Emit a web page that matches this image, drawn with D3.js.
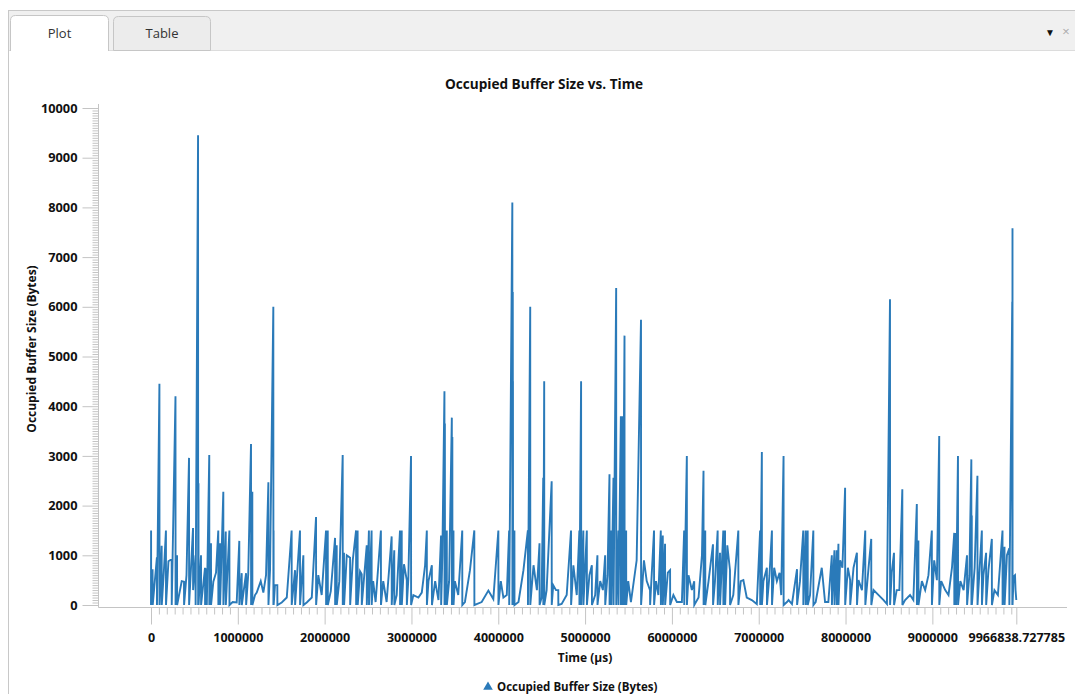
<!DOCTYPE html>
<html>
<head>
<meta charset="utf-8">
<script src="https://cdn.jsdelivr.net/npm/d3@7"></script>
<style>
  html, body { margin: 0; padding: 0; background: #ffffff; }
  svg { display: block; font-family: "Open Sans", "Noto Sans", sans-serif; }
</style>
</head>
<body>
<svg id="chart" width="1075" height="694"></svg>
<script>
// ---- text ----
const chartTitle = "Occupied Buffer Size vs. Time";
const xAxisTitle = "Time (µs)";
const yAxisTitle = "Occupied Buffer Size (Bytes)";
const seriesName = "Occupied Buffer Size (Bytes)";
const tabLabels = ["Plot", "Table"];

// ---- axes ----
const timeEnd = 9966838.727785;
const xTickValues = [0, 1000000, 2000000, 3000000, 4000000, 5000000, 6000000, 7000000, 8000000, 9000000, timeEnd];
const xTickLabels = ["0", "1000000", "2000000", "3000000", "4000000", "5000000", "6000000", "7000000", "8000000", "9000000", "9966838.727785"];
const yTickValues = [0, 1000, 2000, 3000, 4000, 5000, 6000, 7000, 8000, 9000, 10000];

// ---- series: [time (µs), occupied buffer (bytes)] ----
const bufferSamples = [
  [0, 0], [1000, 1500], [2000, 0], [18000, 720], [20000, 0], [68000, 960], [69000, 0],
  [97000, 4450], [98000, 0], [123000, 1190], [124000, 0], [149000, 700], [172000, 1500], [173000, 0],
  [201000, 880], [238000, 920], [239000, 0], [282000, 4200], [283000, 0], [300000, 1000], [301000, 0],
  [354000, 480], [380000, 470], [381000, 0], [409000, 600], [438000, 2960], [439000, 0],
  [484000, 1550], [485000, 300], [513000, 1000], [514000, 0], [542000, 9450], [543000, 0],
  [547000, 2450], [548000, 0], [576000, 1000], [577000, 0], [622000, 750], [623000, 0],
  [642000, 740], [643000, 0], [671000, 3020], [672000, 0], [691000, 1240], [692000, 0],
  [718000, 470], [749000, 650], [775000, 1500], [776000, 0], [795000, 1240], [796000, 0],
  [833000, 2280], [834000, 0], [861000, 1480], [862000, 0], [903000, 1500], [904000, 0],
  [941000, 60], [987000, 50], [1017000, 1290], [1018000, 0], [1045000, 640], [1046000, 0],
  [1095000, 640], [1096000, 0], [1120000, 620], [1152000, 3240], [1153000, 0],
  [1167000, 2280], [1168000, 0], [1198000, 200], [1218000, 250], [1264000, 480], [1294000, 250],
  [1325000, 600], [1352000, 2470], [1353000, 0], [1371000, 700], [1409000, 6000], [1410000, 0],
  [1412000, 1500], [1413000, 0], [1428000, 400], [1455000, 400], [1456000, 0], [1506000, 50],
  [1564000, 150], [1620000, 1500], [1621000, 0], [1659000, 700], [1660000, 0],
  [1716000, 1500], [1717000, 0], [1755000, 1000], [1756000, 0], [1794000, 50], [1852000, 150],
  [1901000, 1770], [1902000, 0], [1927000, 600], [1966000, 200], [2016000, 1500], [2017000, 0],
  [2036000, 1500], [2037000, 0], [2071000, 280], [2120000, 1350], [2121000, 0],
  [2139000, 1200], [2140000, 0], [2169000, 480], [2208000, 3020], [2209000, 0],
  [2223000, 1050], [2224000, 0], [2255000, 1000], [2293000, 950], [2294000, 0], [2324000, 900],
  [2362000, 1500], [2363000, 0], [2380000, 1500], [2381000, 0], [2408000, 680],
  [2427000, 620], [2428000, 0], [2485000, 1200], [2486000, 0], [2510000, 1500], [2511000, 0],
  [2541000, 1500], [2542000, 0], [2559000, 480], [2587000, 60], [2648000, 1500], [2649000, 0],
  [2675000, 480], [2714000, 60], [2772000, 1380], [2773000, 0], [2802000, 1100], [2803000, 0],
  [2830000, 200], [2868000, 1500], [2869000, 0], [2888000, 1500], [2889000, 0], [2914000, 820],
  [2946000, 500], [2947000, 0], [2964000, 520], [2995000, 3000], [2996000, 0], [3022000, 200],
  [3080000, 150], [3119000, 250], [3157000, 800], [3177000, 1500], [3178000, 0], [3196000, 480],
  [3235000, 800], [3236000, 0], [3273000, 480], [3311000, 100], [3341000, 1400], [3342000, 0],
  [3356000, 1000], [3380000, 4300], [3381000, 0], [3385000, 3650], [3386000, 0],
  [3407000, 1500], [3408000, 0], [3434000, 480], [3465000, 3770], [3466000, 0],
  [3471000, 3380], [3472000, 0], [3484000, 1500], [3485000, 0], [3500000, 480], [3539000, 200],
  [3585000, 1500], [3586000, 0], [3616000, 60], [3674000, 700], [3724000, 1500], [3725000, 0],
  [3751000, 20], [3809000, 60], [3886000, 290], [3943000, 120], [4001000, 1500], [4002000, 0],
  [4029000, 480], [4059000, 150], [4098000, 200], [4125000, 1500], [4126000, 0],
  [4162000, 8100], [4163000, 0], [4167000, 6300], [4168000, 3600], [4169000, 4500], [4170000, 0],
  [4186000, 1500], [4187000, 0], [4233000, 60], [4290000, 700], [4341000, 1500], [4342000, 0],
  [4368000, 6000], [4369000, 0], [4406000, 800], [4445000, 300], [4475000, 1240], [4476000, 0],
  [4499000, 150], [4518000, 2560], [4519000, 0], [4529000, 4500], [4530000, 0], [4557000, 300],
  [4615000, 2490], [4616000, 0], [4633000, 400], [4665000, 300], [4691000, 300], [4692000, 0],
  [4730000, 20], [4788000, 200], [4838000, 1500], [4839000, 0], [4865000, 800], [4904000, 200],
  [4934000, 1500], [4935000, 0], [4954000, 4500], [4955000, 0], [4980000, 1500], [4981000, 0],
  [5020000, 1500], [5021000, 0], [5050000, 600], [5078000, 800], [5079000, 0], [5116000, 200],
  [5142000, 1000], [5143000, 0], [5174000, 480], [5205000, 300], [5231000, 1000], [5232000, 0],
  [5258000, 600], [5281000, 2630], [5282000, 0], [5301000, 1500], [5302000, 0],
  [5327000, 2560], [5328000, 0], [5358000, 6380], [5359000, 0], [5384000, 1500], [5385000, 0],
  [5412000, 3800], [5413000, 0], [5431000, 3800], [5432000, 1500], [5433000, 0],
  [5454000, 5420], [5455000, 0], [5473000, 1500], [5474000, 0], [5497000, 480], [5528000, 60],
  [5594000, 900], [5644000, 5740], [5645000, 0], [5678000, 900], [5710000, 480],
  [5748000, 300], [5749000, 0], [5794000, 1500], [5795000, 0], [5817000, 480], [5844000, 200],
  [5872000, 1500], [5873000, 0], [5895000, 1400], [5896000, 0], [5921000, 1230], [5922000, 0],
  [5953000, 650], [5979000, 700], [5980000, 0], [6017000, 200], [6057000, 60], [6115000, 60],
  [6141000, 1500], [6142000, 0], [6172000, 3000], [6173000, 0], [6191000, 600], [6230000, 300],
  [6257000, 480], [6258000, 0], [6307000, 150], [6346000, 1000], [6364000, 2700], [6365000, 0],
  [6384000, 1500], [6385000, 0], [6422000, 480], [6473000, 1220], [6474000, 0], [6496000, 480],
  [6527000, 1500], [6528000, 0], [6554000, 1050], [6555000, 0], [6592000, 1500], [6593000, 0],
  [6612000, 1500], [6613000, 0], [6638000, 1200], [6669000, 700], [6670000, 0], [6707000, 200],
  [6765000, 1500], [6766000, 0], [6793000, 480], [6823000, 500], [6862000, 150], [6920000, 100],
  [6978000, 20], [7016000, 1500], [7017000, 0], [7036000, 3080], [7037000, 0], [7054000, 480],
  [7094000, 750], [7095000, 0], [7124000, 600], [7152000, 1500], [7153000, 0], [7178000, 750],
  [7209000, 480], [7240000, 650], [7259000, 200], [7286000, 3000], [7287000, 0], [7325000, 60],
  [7344000, 100], [7383000, 20], [7441000, 720], [7442000, 0], [7475000, 480],
  [7513000, 1500], [7514000, 0], [7541000, 1500], [7542000, 0], [7564000, 1500], [7565000, 0],
  [7591000, 200], [7629000, 1500], [7630000, 0], [7656000, 60], [7726000, 750], [7764000, 60],
  [7802000, 60], [7842000, 1000], [7843000, 0], [7872000, 1100], [7873000, 0],
  [7899000, 1100], [7900000, 0], [7918000, 1230], [7919000, 0], [7938000, 900], [7964000, 750],
  [7995000, 2360], [7996000, 0], [8027000, 750], [8053000, 500], [8054000, 0], [8092000, 750],
  [8131000, 1050], [8132000, 0], [8149000, 500], [8189000, 300], [8227000, 1500], [8228000, 0],
  [8265000, 750], [8296000, 1330], [8297000, 0], [8323000, 300], [8381000, 200], [8438000, 100],
  [8477000, 20], [8512000, 6150], [8513000, 0], [8532000, 650], [8558000, 1050], [8559000, 0],
  [8589000, 300], [8620000, 300], [8654000, 2330], [8655000, 0], [8686000, 100], [8743000, 200],
  [8781000, 100], [8821000, 2030], [8822000, 0], [8839000, 1300], [8840000, 0], [8879000, 480],
  [8917000, 300], [8955000, 600], [8994000, 1500], [8995000, 0], [9021000, 900], [9052000, 500],
  [9079000, 3400], [9080000, 0], [9102000, 480], [9148000, 300], [9186000, 200], [9226000, 750],
  [9252000, 1450], [9253000, 0], [9272000, 1450], [9273000, 0], [9295000, 3000], [9296000, 0],
  [9322000, 480], [9360000, 300], [9399000, 1000], [9400000, 0], [9426000, 600],
  [9449000, 2930], [9450000, 0], [9454000, 1800], [9455000, 0], [9487000, 750],
  [9519000, 2600], [9520000, 0], [9570000, 1500], [9571000, 0], [9588000, 600],
  [9619000, 1050], [9620000, 0], [9646000, 700], [9685000, 1330], [9686000, 0], [9715000, 300],
  [9755000, 200], [9808000, 1500], [9809000, 0], [9831000, 1170], [9832000, 0], [9859000, 1000],
  [9886000, 1140], [9887000, 0], [9920000, 6100], [9921000, 0], [9923000, 7580], [9924000, 0],
  [9935000, 570], [9952000, 600], [9958000, 300], [timeEnd, 100]
];

// ---- layout ----
const W = 1075, H = 694;
const lineColor = "#2a7ab9";
const axisColor = "#c4c4c4";

const svg = d3.select("#chart");

// tab strip
svg.append("rect").attr("x", 8).attr("y", 10).attr("width", W - 8).attr("height", 40).attr("fill", "#f0f0f0");
svg.append("line").attr("x1", 8).attr("x2", W).attr("y1", 10.5).attr("y2", 10.5).attr("stroke", "#c8c8c8");
svg.append("line").attr("x1", 8).attr("x2", W).attr("y1", 50.5).attr("y2", 50.5).attr("stroke", "#dcdcdc");
svg.append("line").attr("x1", 8.5).attr("x2", 8.5).attr("y1", 10).attr("y2", H).attr("stroke", "#c8c8c8");

function tabPath(x0, x1, top, bottom) {
  const r = 5;
  return `M${x0},${bottom} L${x0},${top + r} Q${x0},${top} ${x0 + r},${top} L${x1 - r},${top} Q${x1},${top} ${x1},${top + r} L${x1},${bottom}`;
}
const tabs = [
  { label: tabLabels[0], x0: 10.5, x1: 108.5, top: 15.5, fill: "#ffffff" },
  { label: tabLabels[1], x0: 113.5, x1: 210.5, top: 16.5, fill: "#ececec" }
];
tabs.forEach((t, i) => {
  svg.append("path").attr("d", tabPath(t.x0, t.x1, t.top, i === 0 ? 51 : 50.5) + (i === 0 ? "" : " Z"))
    .attr("fill", t.fill).attr("stroke", "#c6c6c6");
  svg.append("text").attr("x", (t.x0 + t.x1) / 2).attr("y", 38)
    .attr("text-anchor", "middle").attr("font-size", 13).attr("fill", "#333").text(t.label);
});
svg.append("text").attr("x", 1050).attr("y", 36).attr("text-anchor", "middle")
  .attr("font-size", 10).attr("fill", "#111").text("▼");
svg.append("text").attr("x", 1066).attr("y", 36).attr("text-anchor", "middle")
  .attr("font-size", 13).attr("fill", "#aaa").text("×");

// scales
const x = d3.scaleLinear().domain([0, timeEnd]).range([151, 1016.3]);
const y = d3.scaleLinear().domain([0, 10000]).range([605, 108]);

const axisY = 607.5, axisX = 98.5;

// title
svg.append("text").attr("x", 544).attr("y", 89).attr("text-anchor", "middle")
  .attr("font-size", 13.6).attr("font-weight", 700).attr("fill", "#111").text(chartTitle);

// y axis
const minorY = d3.range(0, 10001, 50).filter(v => v % 1000 !== 0);
svg.append("g").attr("transform", `translate(${axisX},0)`)
  .call(d3.axisLeft(y).tickValues(minorY).tickSize(6).tickFormat(""))
  .call(g => g.select(".domain").remove())
  .call(g => g.selectAll("line").attr("stroke", axisColor));
svg.append("g").attr("transform", `translate(${axisX},0)`)
  .call(d3.axisLeft(y).tickValues(yTickValues).tickSize(16).tickPadding(5).tickFormat(d3.format("d")))
  .call(g => g.select(".domain").remove())
  .call(g => g.selectAll("line").attr("stroke", axisColor))
  .call(g => g.selectAll("text").attr("font-size", 12.8).attr("font-weight", 700).attr("fill", "#111")
    .attr("font-family", "'Open Sans', sans-serif"));
svg.append("line").attr("x1", axisX).attr("x2", axisX).attr("y1", 104).attr("y2", axisY)
  .attr("stroke", axisColor);

// x axis
const minorStep = 1000000 / 11;
const minorX = d3.range(0, timeEnd, minorStep).filter((v, i) => i % 11 !== 0);
svg.append("g").attr("transform", `translate(0,${axisY})`)
  .call(d3.axisBottom(x).tickValues(minorX).tickSize(7).tickFormat(""))
  .call(g => g.select(".domain").remove())
  .call(g => g.selectAll("line").attr("stroke", axisColor));
svg.append("g").attr("transform", `translate(0,${axisY})`)
  .call(d3.axisBottom(x).tickValues(xTickValues).tickSize(17).tickPadding(9)
    .tickFormat((d, i) => xTickLabels[i]))
  .call(g => g.select(".domain").remove())
  .call(g => g.selectAll("line").attr("stroke", axisColor))
  .call(g => g.selectAll("text").attr("font-size", 12.5).attr("font-weight", 700).attr("fill", "#111")
    .attr("font-family", "'Open Sans', sans-serif"));
svg.append("line").attr("x1", axisX).attr("x2", 1067).attr("y1", axisY).attr("y2", axisY)
  .attr("stroke", axisColor);

// axis titles
svg.append("text").attr("x", 585).attr("y", 662).attr("text-anchor", "middle")
  .attr("font-size", 12).attr("font-weight", 700).attr("fill", "#111").text(xAxisTitle);
svg.append("text").attr("transform", "translate(36,349) rotate(-90)").attr("text-anchor", "middle")
  .attr("font-size", 12).attr("font-weight", 700).attr("fill", "#111").text(yAxisTitle);

// series line
const line = d3.line().x(d => x(d[0])).y(d => y(d[1]));
svg.append("path").datum(bufferSamples)
  .attr("d", line).attr("fill", "none").attr("stroke", lineColor)
  .attr("stroke-width", 1.9).attr("stroke-linejoin", "miter");

// legend
const legend = svg.append("g").attr("transform", "translate(488,687)");
legend.append("path").attr("d", d3.symbol(d3.symbolTriangle, 40)()).attr("fill", lineColor);
legend.append("text").attr("x", 9).attr("y", 4).attr("font-size", 11.5).attr("font-weight", 700)
  .attr("fill", "#111").text(seriesName);
</script>
</body>
</html>
